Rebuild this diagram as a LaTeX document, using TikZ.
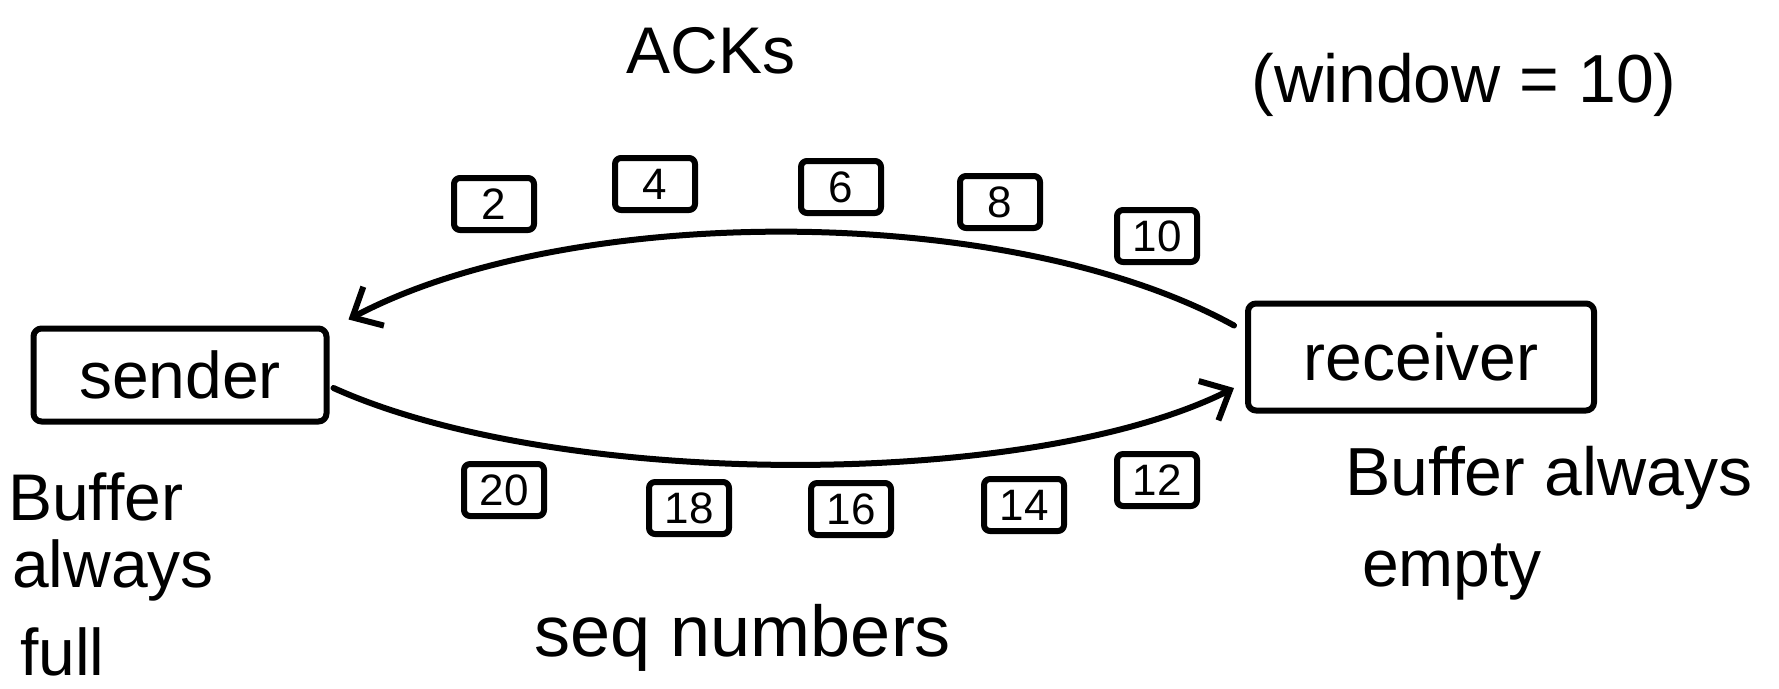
\documentclass[tikz,border=0pt]{standalone}
\usepackage{fontspec}
\setmainfont{Liberation Sans}
\usetikzlibrary{arrows.meta}
\tikzset{
  ink/.style={line width=6pt, line cap=round, line join=round},
  hand/.style={font=\fontsize{66}{80}\selectfont, inner sep=0pt},
  bigbox/.style={ink, draw, rounded corners=8pt, font=\fontsize{66}{80}\selectfont, inner sep=0pt},
  numbox/.style={ink, draw, rounded corners=6pt, minimum width=80pt, minimum height=52pt, inner sep=0pt, font=\fontsize{44}{50}\selectfont},
  flow/.style={ink, -{Straight Barb[length=24pt,width=44pt,line width=6pt]}},
}
\begin{document}
\begin{tikzpicture}[x=1pt,y=-1pt]
\useasboundingbox (0,0) rectangle (1779,688);
% main boxes
\node[bigbox, minimum width=293pt, minimum height=93pt] (sender) at (180,375) {sender};
\node[bigbox, minimum width=346pt, minimum height=107pt] (receiver) at (1421,357) {receiver};
% labels
\node[hand] (acks) at (711,51) {ACKs};
\node[hand, font=\fontsize{68}{80}\selectfont] (window) at (1464,85) {(window = 10)};
\node[hand, font=\fontsize{72}{80}\selectfont] (seq) at (743,638) {seq numbers};
\node[hand, anchor=west] (bufa) at (8,497) {Buffer};
\node[hand, anchor=west] (bufb) at (12,570) {always};
\node[hand, anchor=west] (bufc) at (20,652) {full};
\node[hand, font=\fontsize{68}{80}\selectfont, anchor=west] (bufr) at (1345,478) {Buffer always};
\node[hand, anchor=west] (bufe) at (1362,572) {empty};
% ACK boxes
\node[numbox] (a2) at (494,204) {2};
\node[numbox] (a4) at (655,184) {4};
\node[numbox] (a6) at (841,187) {6};
\node[numbox] (a8) at (1000,202) {8};
\node[numbox] (a10) at (1157,236) {10};
% seq boxes
\node[numbox] (s20) at (504,490) {20};
\node[numbox] (s18) at (689,508) {18};
\node[numbox] (s16) at (851,509) {16};
\node[numbox] (s14) at (1024,505) {14};
\node[numbox] (s12) at (1157,480) {12};
% arcs
\draw[flow] ([shift={(-11,25)}]receiver.north west) .. controls (1010,202) and (570,202) .. ([shift={(19,-6)}]sender.north east);
\draw[flow] ([shift={(4,13)}]sender.east) .. controls (560,490) and (1030,490) .. ([shift={(-11,31)}]receiver.west);
\end{tikzpicture}
\end{document}
